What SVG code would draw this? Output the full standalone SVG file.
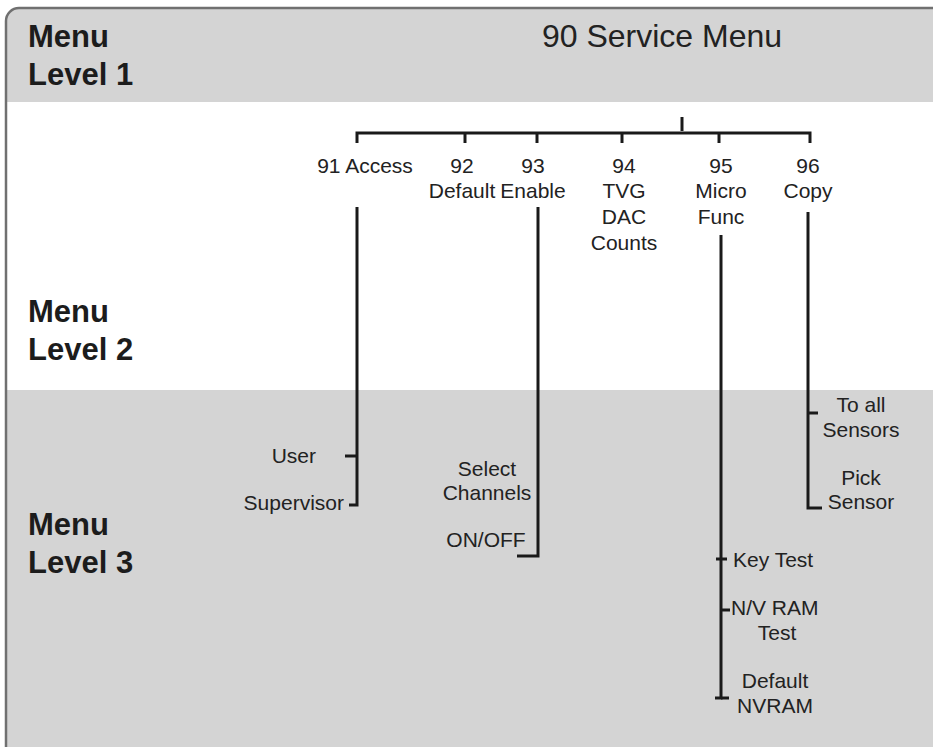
<svg xmlns="http://www.w3.org/2000/svg" width="933" height="747" viewBox="0 0 933 747">
<style>
.lvl{font-family:"Liberation Sans",Arial,sans-serif;font-weight:bold;font-size:31px;fill:#1c1c1c}
.t{font-family:"Liberation Sans",Arial,sans-serif;font-size:21px;fill:#222}
.m{text-anchor:middle}
.e{text-anchor:end}
.ln{stroke:#1a1a1a;stroke-width:3;fill:none}
</style>
<rect x="0" y="0" width="933" height="747" fill="#ffffff"/>
<g id="bands">
<rect x="6" y="8" width="940" height="760" rx="13" fill="#d4d4d4"/>
<rect x="7" y="102" width="930" height="288" fill="#ffffff"/>
<rect x="6" y="8" width="940" height="760" rx="13" fill="none" stroke="#707070" stroke-width="2.5"/>
</g>
<text class="lvl" x="28" y="47">Menu</text>
<text class="lvl" x="28" y="85">Level 1</text>
<text class="lvl" x="28" y="322">Menu</text>
<text class="lvl" x="28" y="360">Level 2</text>
<text class="lvl" x="28" y="535">Menu</text>
<text class="lvl" x="28" y="573">Level 3</text>

<g id="connectors" class="ln">
<path d="M682 117V131"/>
<path d="M357 143V133H810V143"/>
<path d="M465 133V143"/>
<path d="M537 133V143"/>
<path d="M622 133V143"/>
<path d="M719 133V143"/>
<path d="M357 207V505H349"/>
<path d="M345 456H357"/>
<path d="M538 207V556H517"/>
<path d="M721 235V698H715"/>
<path d="M721 698H729"/>
<path d="M716 559H727"/>
<path d="M721 610H730"/>
<path d="M808 212V508H822"/>
<path d="M808 413H818"/>
</g>

<g id="n90"><text class="t m" x="662" y="47" style="font-size:32px">90 Service Menu</text></g>
<g id="n91"><text class="t m" x="365" y="173">91 Access</text></g>
<g id="n92"><text class="t m" x="462" y="173">92</text><text class="t m" x="462" y="198">Default</text></g>
<g id="n93"><text class="t m" x="533" y="173">93</text><text class="t m" x="533" y="198">Enable</text></g>
<g id="n94"><text class="t m" x="624" y="173">94</text><text class="t m" x="624" y="198">TVG</text><text class="t m" x="624" y="224">DAC</text><text class="t m" x="624" y="250">Counts</text></g>
<g id="n95"><text class="t m" x="721" y="173">95</text><text class="t m" x="721" y="198">Micro</text><text class="t m" x="721" y="224">Func</text></g>
<g id="n96"><text class="t m" x="808" y="173">96</text><text class="t m" x="808" y="198">Copy</text></g>

<g id="user"><text class="t e" x="316" y="463">User</text></g>
<g id="supervisor"><text class="t e" x="344" y="510">Supervisor</text></g>
<g id="select"><text class="t m" x="487" y="476">Select</text><text class="t m" x="487" y="500">Channels</text></g>
<g id="onoff"><text class="t m" x="486" y="547">ON/OFF</text></g>
<g id="toall"><text class="t m" x="861" y="412">To all</text><text class="t m" x="861" y="437">Sensors</text></g>
<g id="pick"><text class="t m" x="861" y="485">Pick</text><text class="t m" x="861" y="509">Sensor</text></g>
<g id="keytest"><text class="t" x="733" y="567">Key Test</text></g>
<g id="nvram"><text class="t" x="731" y="615">N/V RAM</text><text class="t m" x="777" y="640">Test</text></g>
<g id="defnvram"><text class="t m" x="775" y="688">Default</text><text class="t m" x="775" y="713">NVRAM</text></g>
</svg>
